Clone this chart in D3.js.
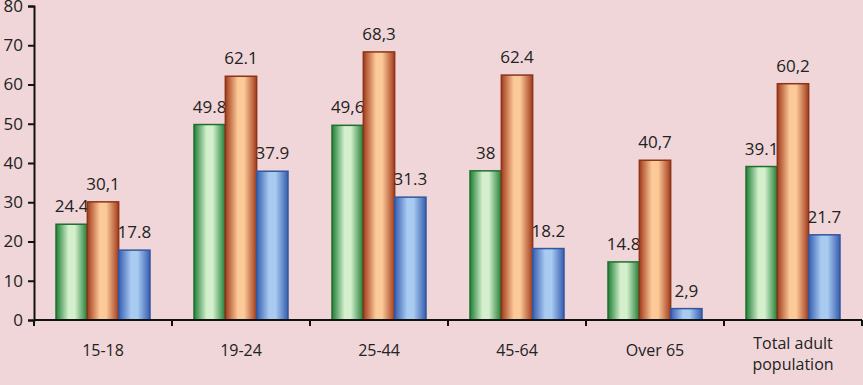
<!DOCTYPE html>
<meta charset="utf-8">
<style>
body { margin: 0; background: #f0d6d9; }
text { font-family: "Open Sans", "Noto Sans", sans-serif; fill: #222; }
.axis path, .axis line { stroke: #111; stroke-width: 2; }
</style>
<body>
<script src="https://cdn.jsdelivr.net/npm/d3@7"></script>
<script>

var categories = ["15-18", "19-24", "25-44", "45-64", "Over 65", "Total adult population"];
var seriesA = [24.4, 49.8, 49.6, 38, 14.8, 39.1];
var seriesB = [30.1, 62.1, 68.3, 62.4, 40.7, 60.2];
var seriesC = [17.8, 37.9, 31.3, 18.2, 2.9, 21.7];
var labelsA = ["24.4", "49.8", "49,6", "38", "14.8", "39.1"];
var labelsB = ["30,1", "62.1", "68,3", "62.4", "40,7", "60,2"];
var labelsC = ["17.8", "37.9", "31.3", "18.2", "2,9", "21.7"];
var yTicks = [0, 10, 20, 30, 40, 50, 60, 70, 80];

var width = 863, height = 385;
var margin = {top: 6, right: 1, bottom: 65, left: 34};

var svg = d3.select("body").append("svg")
    .attr("width", width)
    .attr("height", height);

var defs = svg.append("defs");
var palettes = [
  {id: "gA", edge: "#1f7f36", mid: "#d4efcc"},
  {id: "gB", edge: "#a23c1c", mid: "#fcc999"},
  {id: "gC", edge: "#365eb0", mid: "#a9cbf1"}
];
palettes.forEach(function(p) {
  var g = defs.append("linearGradient").attr("id", p.id)
      .attr("x1", "0%").attr("x2", "100%").attr("y1", "0%").attr("y2", "0%");
  g.append("stop").attr("offset", "0%").attr("stop-color", p.edge);
  g.append("stop").attr("offset", "40%").attr("stop-color", p.mid);
  g.append("stop").attr("offset", "60%").attr("stop-color", p.mid);
  g.append("stop").attr("offset", "100%").attr("stop-color", p.edge);
});

var x = d3.scaleBand()
    .domain(categories)
    .range([margin.left, width - margin.right])
    .paddingInner(0)
    .paddingOuter(0);

var inner = d3.scaleBand()
    .domain([0, 1, 2])
    .range([22, x.bandwidth() - 22]);

var y = d3.scaleLinear()
    .domain([0, 80])
    .range([height - margin.bottom, margin.top]);

var series = [
  {values: seriesA, labels: labelsA, fill: "url(#gA)", stroke: "#1f6f31"},
  {values: seriesB, labels: labelsB, fill: "url(#gB)", stroke: "#8c3318"},
  {values: seriesC, labels: labelsC, fill: "url(#gC)", stroke: "#34569e"}
];

series.forEach(function(s, si) {
  var g = svg.append("g");
  g.selectAll("rect")
      .data(s.values)
    .enter().append("rect")
      .attr("x", function(d, i) { return x(categories[i]) + inner(si); })
      .attr("y", function(d) { return y(d); })
      .attr("width", inner.bandwidth())
      .attr("height", function(d) { return y(0) - y(d); })
      .attr("fill", s.fill)
      .attr("stroke", s.stroke)
      .attr("stroke-width", 1.5);
  g.selectAll("text")
      .data(s.values)
    .enter().append("text")
      .attr("x", function(d, i) { return x(categories[i]) + inner(si) + inner.bandwidth() / 2; })
      .attr("y", function(d) { return y(d) - 12; })
      .attr("text-anchor", "middle")
      .style("font-size", "17px")
      .text(function(d, i) { return s.labels[i]; });
});

var yAxis = svg.append("g")
    .attr("class", "axis")
    .attr("transform", "translate(" + margin.left + ",0)")
    .call(d3.axisLeft(y).tickValues(yTicks).tickSize(6).tickPadding(5));
yAxis.selectAll("text").style("font-size", "17px").attr("fill", "#222");

var xAxis = svg.append("g")
    .attr("class", "axis")
    .attr("transform", "translate(0," + y(0) + ")");
xAxis.append("line")
    .attr("x1", margin.left).attr("x2", width - margin.right);
xAxis.selectAll(".tick")
    .data(d3.range(categories.length + 1))
  .enter().append("line")
    .attr("x1", function(i) { return margin.left + i * x.bandwidth(); })
    .attr("x2", function(i) { return margin.left + i * x.bandwidth(); })
    .attr("y1", 0).attr("y2", 6);

var xl = svg.append("g").selectAll("text")
    .data(categories)
  .enter().append("text")
    .attr("x", function(d) { return x(d) + x.bandwidth() / 2; })
    .attr("y", y(0) + 36)
    .attr("text-anchor", "middle")
    .style("font-size", "16px");
xl.each(function(d) {
  var t = d3.select(this);
  if (d === "Total adult population") {
    t.attr("y", y(0) + 29);
    t.append("tspan").attr("x", t.attr("x")).text("Total adult");
    t.append("tspan").attr("x", t.attr("x")).attr("dy", 21).text("population");
  } else {
    t.text(d);
  }
});

</script>
